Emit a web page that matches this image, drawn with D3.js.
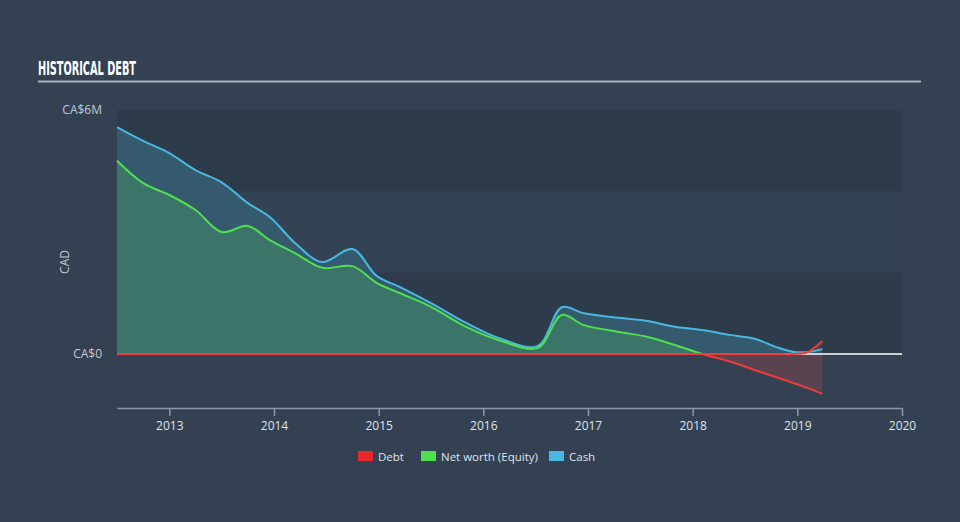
<!DOCTYPE html>
<html>
<head>
<meta charset="UTF-8">
<title>Historical Debt</title>
<script src="https://cdnjs.cloudflare.com/ajax/libs/d3/7.8.5/d3.min.js"></script>
<style>
  body { margin: 0; background: #344152; }
  svg { display: block; }
</style>
</head>
<body>
<div id="chart"></div>
<script>
  // data (CA$ millions)
  const dates = [2012.5, 2012.75, 2013.0, 2013.25, 2013.5, 2013.75, 2013.96, 2014.2, 2014.46, 2014.75,
                 2014.98, 2015.2, 2015.5, 2015.84, 2016.15, 2016.52, 2016.75, 2016.96, 2017.3, 2017.57,
                 2017.83, 2018.09, 2018.35, 2018.6, 2018.8, 2018.97, 2019.1, 2019.24];
  const cash = [5.58, 5.24, 4.94, 4.52, 4.22, 3.71, 3.37, 2.73, 2.26, 2.58,
                1.92, 1.65, 1.25, 0.76, 0.39, 0.2, 1.15, 1.0, 0.89, 0.81,
                0.67, 0.59, 0.47, 0.37, 0.17, 0.05, 0.05, 0.12];
  const equity = [4.75, 4.2, 3.91, 3.54, 3.0, 3.15, 2.8, 2.48, 2.12, 2.16,
                  1.75, 1.5, 1.16, 0.66, 0.34, 0.15, 0.96, 0.71, 0.54, 0.42,
                  0.22, 0.0, -0.18, -0.4, -0.57, -0.72, -0.84, -0.98];
  const debt = [0, 0, 0, 0, 0, 0, 0, 0, 0, 0,
                0, 0, 0, 0, 0, 0, 0, 0, 0, 0,
                0, 0, 0, 0, 0, 0, 0.05, 0.32];
  const yearTicks = [2013, 2014, 2015, 2016, 2017, 2018, 2019, 2020];
  const yTicks = [0, 6];
  const legendItems = ["Debt", "Net worth (Equity)", "Cash"];
  const legendColors = ["#e8272a", "#4ee04e", "#47b8e0"];

  const W = 960, H = 522;
  const plotLeft = 117, plotRight = 902, plotTop = 110, zeroY = 354, plotBottom = 408;

  const x = d3.scaleLinear().domain([2012.5, 2020]).range([plotLeft, plotRight]);
  const y = d3.scaleLinear().domain([0, 6]).range([zeroY, plotTop]);

  const svg = d3.select("#chart").append("svg")
      .attr("width", W).attr("height", H);

  // title
  svg.append("text")
      .attr("x", 38).attr("y", 75)
      .attr("font-family", "Liberation Sans Narrow, DejaVu Sans Condensed, sans-serif")
      .attr("font-weight", "bold")
      .attr("font-size", 19)
      .attr("textLength", 98).attr("lengthAdjust", "spacingAndGlyphs")
      .attr("fill", "#ffffff")
      .text("HISTORICAL DEBT");
  svg.append("rect")
      .attr("x", 38).attr("y", 80.5).attr("width", 883).attr("height", 2)
      .attr("fill", "#a9b1ba");

  // background bands
  const bandStops = [6, 4, 2, 0];
  svg.selectAll(".band")
      .data(d3.pairs(bandStops))
      .enter().append("rect")
      .attr("x", plotLeft).attr("width", plotRight - plotLeft)
      .attr("y", d => y(d[0]))
      .attr("height", d => y(d[1]) - y(d[0]))
      .attr("fill", (d, i) => i % 2 === 0 ? "#2e3b4b" : "#334354");

  const pts = dates.map((d, i) => ({ t: d, c: cash[i], e: equity[i], b: debt[i] }));
  const curve = d3.curveCatmullRom.alpha(0.5);

  // clip paths above / below zero
  const defs = svg.append("defs");
  defs.append("clipPath").attr("id", "above")
    .append("rect").attr("x", 0).attr("y", 0).attr("width", W).attr("height", zeroY);
  defs.append("clipPath").attr("id", "below")
    .append("rect").attr("x", 0).attr("y", zeroY).attr("width", W).attr("height", H - zeroY);
  const hatch = defs.append("pattern").attr("id", "hatch")
      .attr("patternUnits", "userSpaceOnUse").attr("width", 4).attr("height", 4)
      .attr("patternTransform", "rotate(45)");
  hatch.append("line").attr("x1", 0).attr("y1", 0).attr("x2", 0).attr("y2", 4)
      .attr("stroke", "#e8272a").attr("stroke-width", 1.5);

  const area = key => d3.area().curve(curve).x(d => x(d.t)).y0(y(0)).y1(d => y(d[key]));
  const line = key => d3.line().curve(curve).x(d => x(d.t)).y(d => y(d[key]));

  // cash area
  svg.append("path").datum(pts).attr("d", area("c")).attr("fill", "#355a6e");
  // equity area (positive part)
  svg.append("path").datum(pts).attr("d", area("e")).attr("fill", "#3b7468")
      .attr("clip-path", "url(#above)");
  // equity area (negative part)
  svg.append("path").datum(pts).attr("d", area("e")).attr("fill", "#5a4350")
      .attr("clip-path", "url(#below)");

  // hatch where debt is above cash
  const tail = pts.filter(d => d.t >= 2018.97);
  svg.append("path").datum(tail)
      .attr("d", d3.area().curve(curve).x(d => x(d.t)).y0(d => y(d.c)).y1(d => y(Math.max(d.b, d.c))))
      .attr("fill", "url(#hatch)").attr("opacity", 0.8);

  // zero line
  svg.append("line")
      .attr("x1", plotLeft).attr("x2", plotRight).attr("y1", y(0)).attr("y2", y(0))
      .attr("stroke", "#ffffff").attr("stroke-width", 1.5);

  // lines
  svg.append("path").datum(pts).attr("d", line("c"))
      .attr("fill", "none").attr("stroke", "#47b8e0").attr("stroke-width", 2);
  svg.append("path").datum(pts).attr("d", line("e"))
      .attr("fill", "none").attr("stroke", "#4ee04e").attr("stroke-width", 2)
      .attr("clip-path", "url(#above)");
  svg.append("path").datum(pts).attr("d", line("e"))
      .attr("fill", "none").attr("stroke", "#f03a3a").attr("stroke-width", 2)
      .attr("clip-path", "url(#below)");
  svg.append("path").datum(pts).attr("d", line("b"))
      .attr("fill", "none").attr("stroke", "#f23b3b").attr("stroke-width", 2);

  // y tick labels
  svg.selectAll(".ytick")
      .data(yTicks)
      .enter().append("text")
      .attr("x", 102).attr("y", d => y(d)).attr("dy", "0.35em")
      .attr("text-anchor", "end")
      .attr("font-family", "Open Sans, sans-serif").attr("font-size", 12)
      .attr("fill", "#c3c8ce")
      .text(d => d === 0 ? "CA$0" : "CA$" + d + "M");

  svg.append("text")
      .attr("transform", "translate(69,262) rotate(-90)")
      .attr("text-anchor", "middle")
      .attr("font-family", "Open Sans, sans-serif").attr("font-size", 12)
      .attr("fill", "#c3c8ce")
      .text("CAD");

  // x axis
  const xAxis = d3.axisBottom(x).tickValues(yearTicks).tickFormat(d3.format("d"))
      .tickSize(8).tickSizeOuter(0);
  const gx = svg.append("g")
      .attr("transform", "translate(0," + plotBottom + ")")
      .call(xAxis);
  gx.select(".domain").attr("stroke", "#8c98a8").attr("stroke-width", 1.5);
  gx.selectAll(".tick line").attr("stroke", "#8c98a8").attr("stroke-width", 1.5);
  gx.selectAll(".tick text")
      .attr("font-family", "Open Sans, sans-serif").attr("font-size", 12)
      .attr("fill", "#dfe3e8").attr("dy", "0.9em");

  // legend
  const legendX = [358, 421, 549];
  const lg = svg.selectAll(".legend")
      .data(legendItems)
      .enter().append("g")
      .attr("transform", (d, i) => "translate(" + legendX[i] + ",451)");
  lg.append("rect").attr("width", 15).attr("height", 10)
      .attr("fill", (d, i) => legendColors[i]);
  lg.append("text").attr("x", 20).attr("y", 10)
      .attr("font-family", "Open Sans, sans-serif").attr("font-size", 11.5)
      .attr("fill", "#dfe3e8")
      .text(d => d);
</script>
</body>
</html>
